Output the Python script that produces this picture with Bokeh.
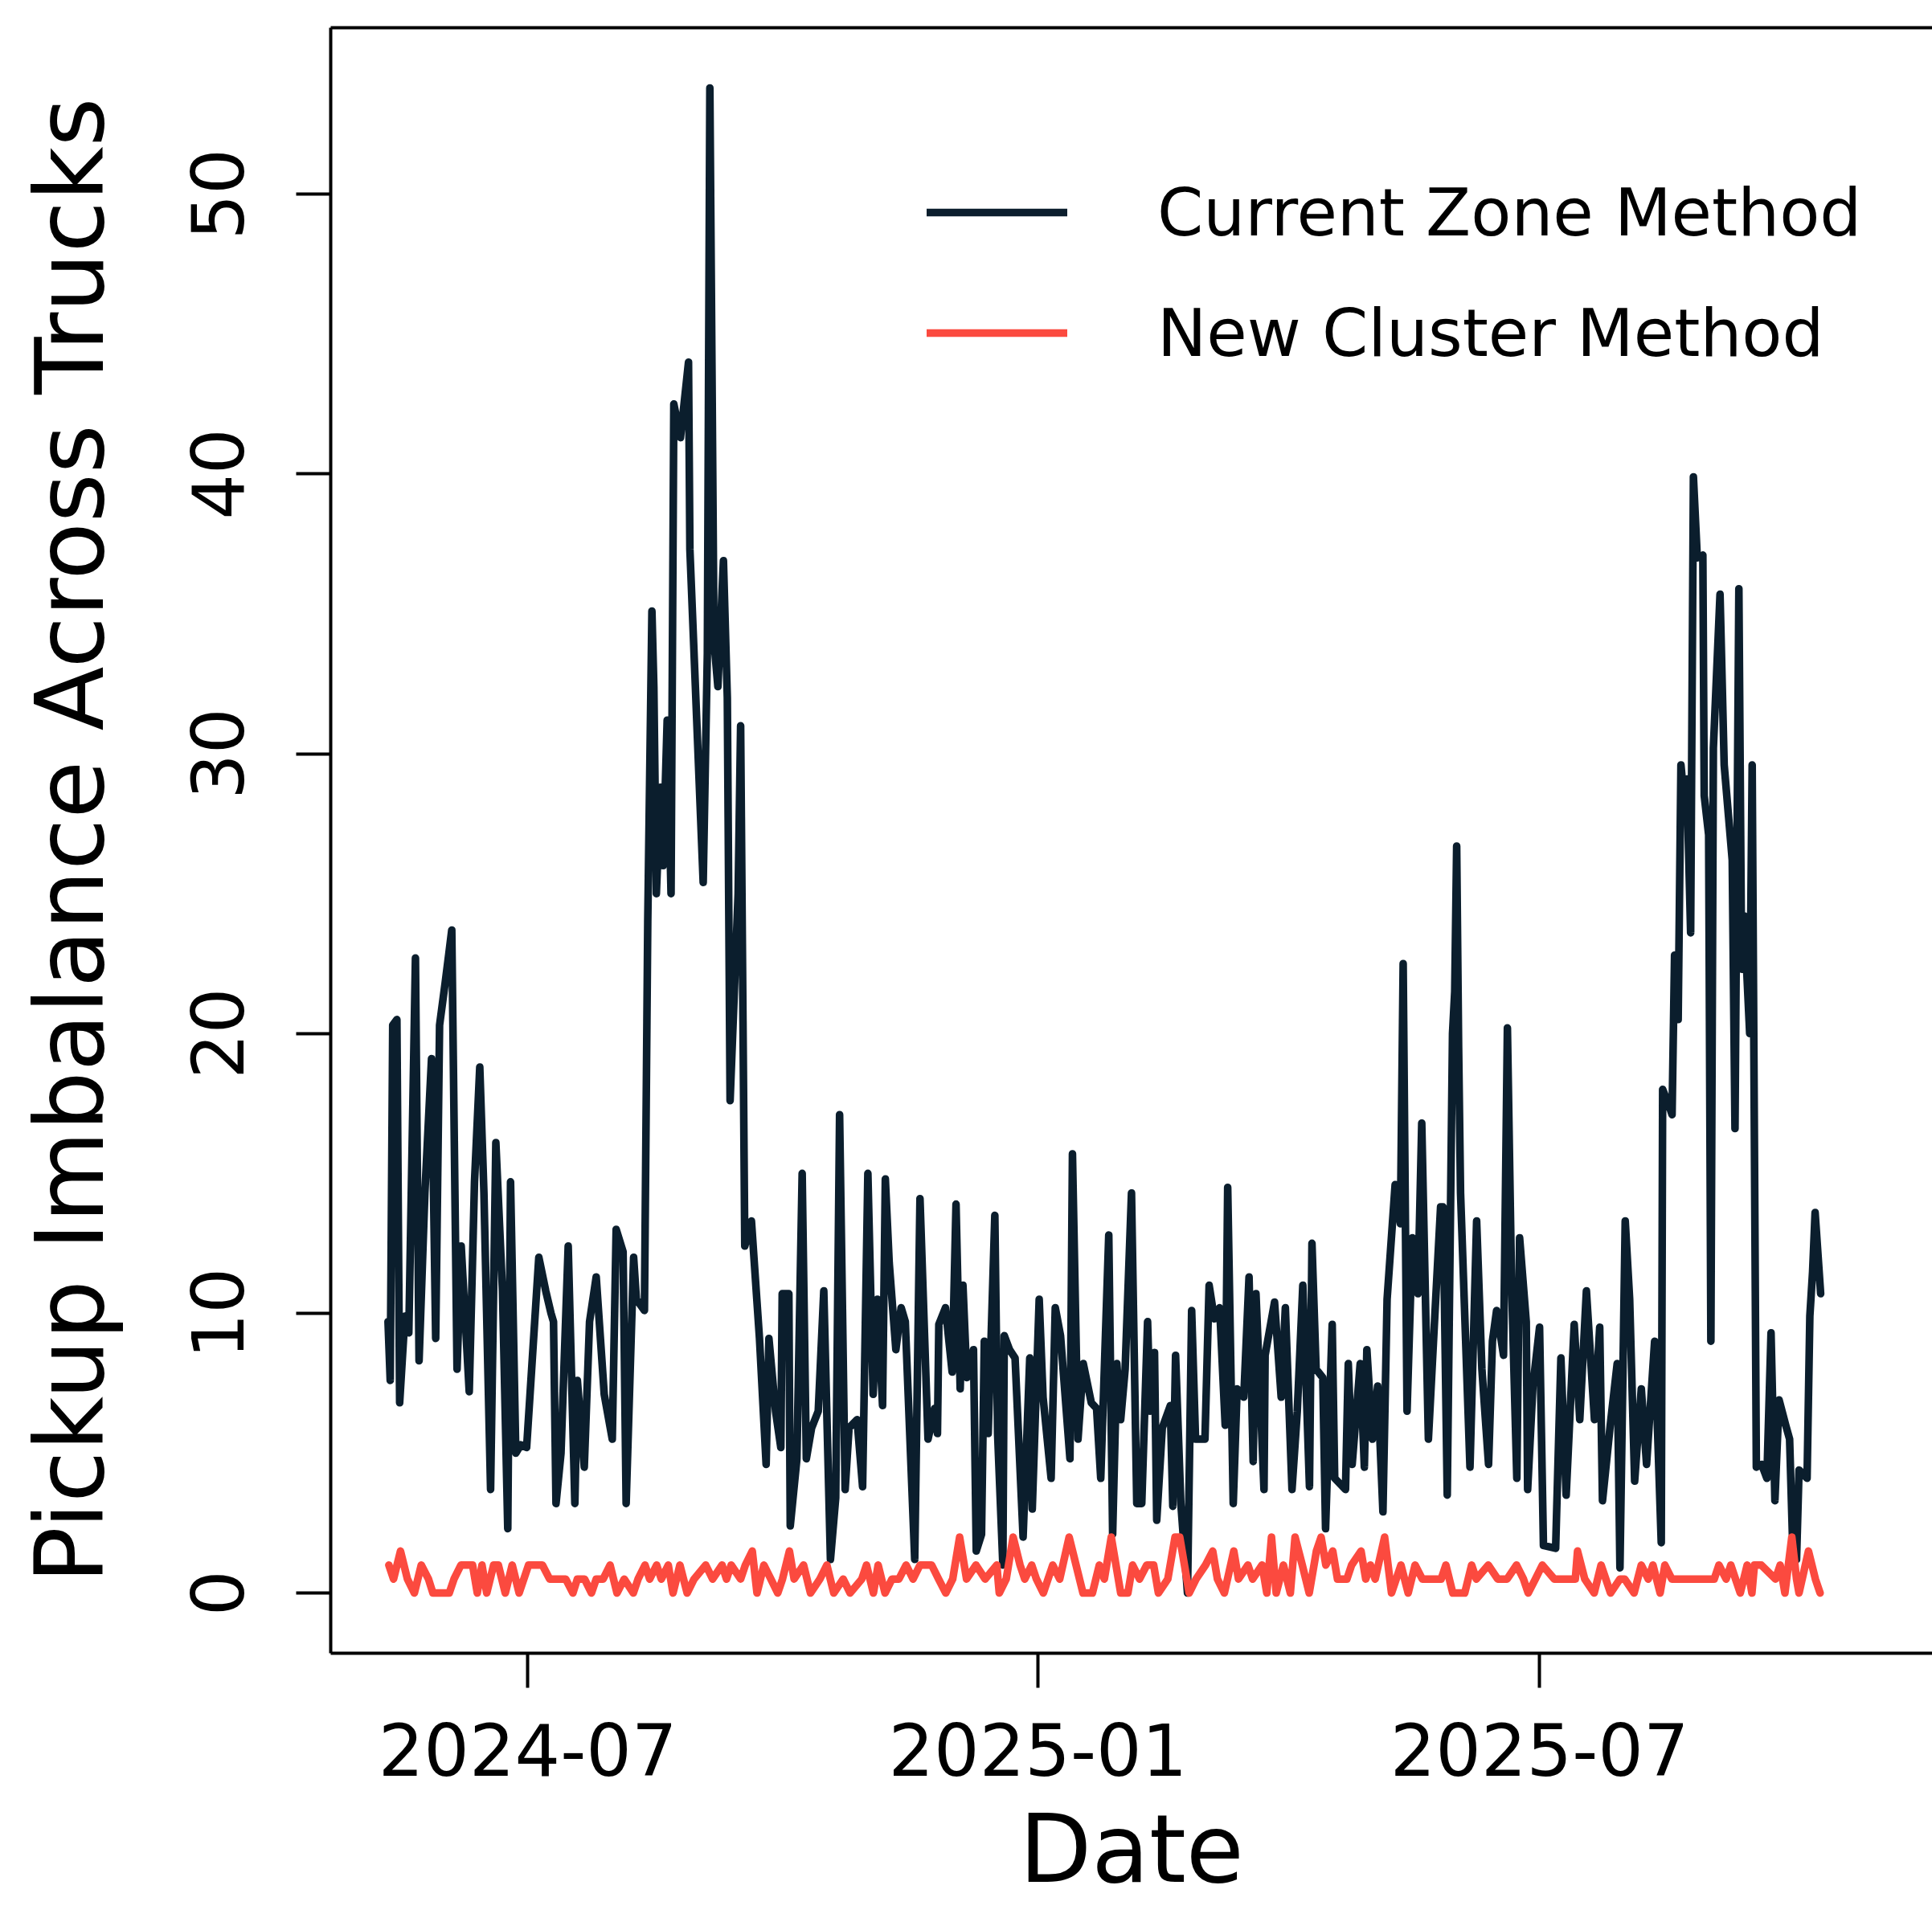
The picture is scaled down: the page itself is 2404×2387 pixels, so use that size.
import pandas as pd
from bokeh.plotting import figure
from bokeh.models import (Range1d, FixedTicker, DatetimeTickFormatter, LinearAxis,
                          Legend, LegendItem, ColumnDataSource)
from bokeh.embed import file_html
from bokeh.resources import INLINE

# ---------------- data ----------------
ORIGIN = "2024-07-01"   # day offsets below are counted from this date

black_days = [
    -50.4, -49.6, -48.7, -47.2, -46.2, -44.3, -42.9, -40.5, -39.2, -37.1,
    -34.7, -33.2, -31.8, -29.8, -28.4, -27.4, -25.5, -24.0, -21.1, -19.2,
    -17.3, -15.8, -13.4, -11.5, -9.1, -7.2, -6.2, -4.3, -2.5, -0.4,
    4.0, 6.5, 8.4, 9.3, 10.2, 12.0, 14.6, 17.0, 17.9, 20.4,
    22.3, 24.7, 27.6, 30.5, 31.9, 34.4, 35.5, 38.2, 39.2, 42.1,
    43.3, 44.8, 45.5, 46.4, 47.9, 48.8, 50.3, 51.7, 52.7, 55.1,
    58.0, 58.5, 63.3, 64.8, 65.7, 67.2, 68.6, 70.6, 72.0, 73.0,
    75.9, 76.8, 78.3, 80.7, 83.6, 86.0, 87.0, 89.4, 91.3, 91.8,
    94.2, 94.7, 97.1, 99.0, 100.5, 102.4, 104.8, 106.8, 109.2, 111.1,
    112.5, 114.5, 115.9, 118.8, 120.8, 122.7, 124.6, 126.1, 128.0, 129.0,
    130.4, 132.8, 134.7, 136.2, 139.6, 141.5, 144.4, 146.8, 147.8, 148.3,
    150.7, 153.1, 154.5, 156.0, 157.0, 158.4, 160.8, 161.8, 163.7, 164.7,
    166.1, 168.5, 169.5, 171.4, 171.9, 173.8, 175.8, 178.7, 181.1, 182.0,
    184.5, 185.9, 188.8, 190.3, 192.2, 195.6, 196.5, 198.5, 200.4, 203.3,
    205.2, 206.7, 209.6, 211.0, 212.5, 213.9, 215.5, 217.8, 219.7, 221.5,
    223.6, 224.5, 226.1, 226.9, 228.9, 231.8, 232.7, 233.7, 235.6, 238.0,
    239.5, 240.9, 244.3, 245.8, 247.7, 249.6, 251.6, 252.5, 254.5, 255.9,
    258.3, 260.2, 261.7, 262.7, 265.6, 266.0, 269.4, 271.8, 273.3, 275.7,
    277.6, 279.6, 282.0, 282.9, 284.4, 286.8, 287.8, 290.2, 291.1, 295.0,
    296.0, 297.4, 300.3, 301.8, 302.7, 304.7, 306.6, 308.5, 310.0, 312.9,
    314.8, 315.8, 317.2, 319.1, 321.1, 322.5, 324.9, 327.0, 329.3, 330.2,
    331.7, 333.6, 334.4, 335.1, 335.8, 336.5, 339.9, 342.3, 344.2, 346.6,
    348.0, 349.5, 352.0, 353.4, 354.9, 356.8, 357.8, 360.2, 360.7, 362.6,
    365.0, 366.4, 370.8, 372.7, 374.6, 377.5, 379.5, 381.9, 384.8, 386.7,
    387.7, 390.5, 393.0, 394.0, 395.9, 397.5, 399.3, 401.7, 403.6, 406.5,
    408.9, 409.4, 411.8, 412.8, 413.7, 415.0, 416.0, 417.0, 418.1, 419.5,
    420.5, 421.9, 423.9, 424.4, 426.0, 426.8, 427.7, 430.1, 431.6, 434.5,
    435.5, 436.9, 437.9, 438.8, 440.8, 441.7, 443.2, 445.1, 447.0, 448.5,
    449.9, 451.4, 453.8, 455.2, 456.2, 457.7, 458.6, 461.5, 462.5, 463.5,
    464.4, 466.4,
]
black_vals = [
    9.7, 7.6, 20.3, 20.5, 6.8, 9.9, 9.3, 22.7, 8.3, 14.3,
    19.1, 9.1, 20.3, 21.8, 22.9, 23.7, 8.0, 12.4, 7.2, 14.7,
    18.8, 14.3, 3.7, 16.1, 10.8, 2.3, 14.7, 5.0, 5.3, 5.2,
    12.0, 10.8, 10.0, 9.7, 3.2, 5.0, 12.4, 3.2, 7.6, 4.5,
    9.7, 11.3, 7.1, 5.5, 13.0, 12.2, 3.2, 12.0, 10.5, 10.1,
    24.0, 35.1, 32.4, 25.0, 28.8, 26.0, 31.2, 25.0, 42.5, 41.3,
    44.0, 37.3, 25.4, 33.6, 53.8, 34.0, 32.4, 36.9, 32.0, 17.6,
    25.0, 31.0, 12.4, 13.3, 9.1, 4.6, 9.1, 6.5, 5.2, 10.7,
    10.7, 2.4, 4.8, 15.0, 4.8, 5.9, 6.5, 10.8, 1.2, 3.4,
    17.1, 3.7, 5.9, 6.2, 3.8, 15.0, 7.1, 10.5, 6.7, 14.8,
    11.8, 8.7, 10.2, 9.7, 1.2, 14.1, 5.5, 6.6, 5.7, 9.6,
    10.2, 7.9, 13.9, 7.3, 11.0, 7.7, 8.7, 1.5, 2.1, 9.0,
    5.7, 13.5, 5.7, 1.0, 9.2, 8.7, 8.4, 2.0, 8.4, 3.0,
    10.5, 7.0, 4.1, 10.2, 9.2, 4.8, 15.7, 5.5, 8.2, 6.8,
    6.6, 4.1, 12.8, 2.1, 8.2, 6.2, 8.0, 14.3, 3.2, 3.2,
    9.7, 6.5, 8.6, 2.6, 5.9, 6.7, 3.1, 8.5, 3.2, 0.0,
    10.1, 5.5, 5.5, 11.0, 9.8, 10.2, 6.0, 14.5, 3.2, 7.3,
    7.0, 11.3, 4.7, 10.7, 3.7, 8.5, 10.4, 7.0, 10.2, 3.7,
    6.5, 11.0, 3.8, 12.5, 8.0, 7.7, 2.3, 9.6, 4.1, 3.7,
    8.2, 4.6, 8.2, 4.5, 8.7, 5.5, 7.4, 2.9, 10.5, 14.6,
    13.2, 22.5, 6.5, 12.7, 10.7, 16.8, 5.5, 9.5, 13.8, 13.8,
    3.5, 20.0, 21.5, 26.7, 19.5, 14.3, 4.5, 13.3, 8.0, 4.6,
    9.0, 10.1, 8.5, 20.2, 11.1, 4.1, 12.7, 9.7, 3.7, 7.4,
    9.5, 1.7, 1.6, 8.4, 3.5, 9.6, 6.2, 10.8, 6.2, 9.5,
    3.3, 6.0, 8.2, 0.9, 13.3, 10.5, 4.0, 7.3, 4.6, 9.0,
    1.8, 18.0, 17.4, 17.1, 22.8, 20.5, 29.6, 28.5, 29.1, 23.6,
    39.9, 37.0, 37.1, 28.5, 27.1, 9.0, 30.2, 35.7, 29.6, 26.2,
    16.6, 35.9, 22.3, 24.2, 20.0, 29.6, 4.5, 4.6, 4.1, 9.3,
    3.3, 6.9, 6.0, 5.5, 2.1, 1.2, 4.4, 4.1, 9.9, 11.5,
    13.6, 10.7,
]

red_days = [
    -50.1, -48.4, -45.9, -43.4, -40.9, -38.4, -35.8, -34.2, -28.3, -26.6,
    -24.1, -19.9, -18.2, -16.5, -14.8, -12.3, -10.6, -8.1, -5.6, -3.1,
    0.3, 5.3, 7.9, 13.7, 16.3, 17.9, 20.5, 23.0, 24.7, 27.2,
    29.7, 32.2, 34.8, 38.1, 39.8, 42.3, 44.0, 46.5, 48.2, 50.7,
    52.4, 54.9, 57.5, 60.0, 64.2, 66.7, 70.1, 71.7, 73.4, 76.8,
    78.5, 81.0, 82.7, 85.2, 87.7, 90.2, 91.9, 94.4, 96.1, 99.5,
    102.0, 105.4, 107.9, 110.4, 113.8, 116.3, 120.5, 122.2, 124.7, 126.4,
    128.9, 131.4, 133.9, 136.5, 139.0, 141.5, 145.7, 148.2, 150.8, 153.3,
    155.8, 158.3, 161.7, 165.0, 169.2, 170.1, 172.6, 175.1, 177.6, 179.3,
    181.8, 183.5, 186.0, 189.4, 191.9, 195.3, 197.8, 200.3, 203.7, 206.2,
    208.0, 210.5, 213.9, 216.5, 218.2, 220.7, 223.3, 225.8, 227.5, 230.9,
    233.5, 235.2, 236.9, 238.6, 241.1, 244.5, 247.1, 248.8, 251.3, 254.7,
    256.4, 259.8, 261.5, 264.9, 266.6, 268.3, 270.0, 272.6, 275.1, 276.8,
    279.4, 281.9, 284.5, 286.2, 287.9, 290.4, 292.1, 295.5, 297.2, 300.6,
    302.3, 304.0, 305.7, 309.1, 311.6, 315.0, 317.6, 320.1, 322.7, 329.5,
    331.2, 333.7, 338.0, 340.5, 342.2, 346.5, 349.9, 353.3, 356.7, 359.2,
    360.9, 363.5, 366.0, 370.3, 377.9, 378.7, 381.3, 384.7, 387.2, 390.6,
    394.0, 395.7, 399.1, 401.7, 404.2, 405.9, 408.5, 410.2, 412.7, 421.2,
    428.0, 429.7, 432.3, 434.0, 435.7, 437.4, 439.9, 441.6, 442.5, 445.0,
    450.1, 451.8, 453.5, 456.0, 457.7, 458.6, 462.0, 464.5, 466.2,
]
red_vals = [
    1.0, 0.5, 1.5, 0.5, 0.0, 1.0, 0.5, 0.0, 0.0, 0.5,
    1.0, 1.0, 0.0, 1.0, 0.0, 1.0, 1.0, 0.0, 1.0, 0.0,
    1.0, 1.0, 0.5, 0.5, 0.0, 0.5, 0.5, 0.0, 0.5, 0.5,
    1.0, 0.0, 0.5, 0.0, 0.5, 1.0, 0.5, 1.0, 0.5, 1.0,
    0.0, 1.0, 0.0, 0.5, 1.0, 0.5, 1.0, 0.5, 1.0, 0.5,
    1.0, 1.5, 0.0, 1.0, 0.5, 0.0, 0.5, 1.5, 0.5, 1.0,
    0.0, 0.5, 1.0, 0.0, 0.5, 0.0, 0.5, 1.0, 0.0, 1.0,
    0.0, 0.5, 0.5, 1.0, 0.5, 1.0, 1.0, 0.5, 0.0, 0.5,
    2.0, 0.5, 1.0, 0.5, 1.0, 0.0, 0.5, 2.0, 1.0, 0.5,
    1.0, 0.5, 0.0, 1.0, 0.5, 2.0, 1.0, 0.0, 0.0, 1.0,
    0.5, 2.0, 0.0, 0.0, 1.0, 0.5, 1.0, 1.0, 0.0, 0.5,
    2.0, 2.0, 1.0, 0.0, 0.5, 1.0, 1.5, 0.5, 0.0, 1.5,
    0.5, 1.0, 0.5, 1.0, 0.0, 2.0, 0.0, 1.0, 0.0, 2.0,
    1.0, 0.0, 1.5, 2.0, 1.0, 1.5, 0.5, 0.5, 1.0, 1.5,
    0.5, 1.0, 0.5, 2.0, 0.0, 1.0, 0.0, 1.0, 0.5, 0.5,
    1.0, 0.0, 0.0, 1.0, 0.5, 1.0, 0.5, 0.5, 1.0, 0.5,
    0.0, 0.5, 1.0, 0.5, 0.5, 1.5, 0.5, 0.0, 1.0, 0.0,
    0.5, 0.5, 0.0, 1.0, 0.5, 1.0, 0.0, 1.0, 0.5, 0.5,
    0.5, 1.0, 0.5, 1.0, 0.5, 0.0, 1.0, 0.0, 1.0, 1.0,
    0.5, 1.0, 0.0, 2.0, 0.5, 0.0, 1.5, 0.5, 0.0,
]

series_names = ["Current Zone Method", "New Cluster Method"]
series_colors = ["#0b1e2d", "#fb4a3f"]
x_tick_labels = ["2024-07", "2025-01", "2025-07"]
y_ticks = [0, 10, 20, 30, 40, 50]
x_title = "Date"
y_title = "Pickup Imbalance Across Trucks"

FONT = "DejaVu Sans"

# ---------------- build ----------------
origin = pd.Timestamp(ORIGIN)
bx = origin + pd.to_timedelta(black_days, unit="D")
rx = origin + pd.to_timedelta(red_days, unit="D")


def ms(ts):
    return pd.Timestamp(ts).value / 1e6


d_lo = min(black_days[0], red_days[0])
d_hi = max(black_days[-1], red_days[-1])
span = d_hi - d_lo
x_lo = ms(origin + pd.Timedelta(days=d_lo - 0.04 * span))
x_hi = ms(origin + pd.Timedelta(days=d_hi + 0.078 * span))
v_lo = min(min(black_vals), min(red_vals))
v_hi = max(max(black_vals), max(red_vals))
vpad = 0.04 * (v_hi - v_lo)
y_lo, y_hi = v_lo - vpad, v_hi + vpad

p = figure(width=2404, height=2387, x_axis_type="datetime",
           x_range=Range1d(x_lo, x_hi), y_range=Range1d(y_lo, y_hi),
           output_backend="svg", toolbar_location=None,
           min_border_left=411, min_border_top=34,
           min_border_bottom=330, min_border_right=0)
p.outline_line_color = None
p.xgrid.visible = False
p.ygrid.visible = False
p.background_fill_color = "white"
p.border_fill_color = "white"

src_b = ColumnDataSource(dict(x=bx, y=black_vals))
src_r = ColumnDataSource(dict(x=rx, y=red_vals))
LW = 9.5
r1 = p.line("x", "y", source=src_b, line_color=series_colors[0], line_width=LW,
            line_join="round", line_cap="round")
r2 = p.line("x", "y", source=src_r, line_color=series_colors[1], line_width=LW,
            line_join="round", line_cap="round")

xa = p.xaxis[0]
xa.ticker = FixedTicker(ticks=[ms(t + "-01") for t in x_tick_labels])
fmt = "%Y-%m"
xa.formatter = DatetimeTickFormatter(microseconds=fmt, milliseconds=fmt, seconds=fmt,
                                     minsec=fmt, minutes=fmt, hourmin=fmt, hours=fmt,
                                     days=fmt, months=fmt, years=fmt)
xa.axis_label = x_title
xa.axis_label_standoff = 20

ya = p.yaxis[0]
ya.ticker = FixedTicker(ticks=y_ticks)
ya.major_label_orientation = "vertical"
ya.axis_label = y_title
ya.axis_label_standoff = 79

for ax in (xa, ya):
    ax.axis_line_width = 4
    ax.axis_line_color = "black"
    ax.major_tick_line_width = 4
    ax.major_tick_line_color = "black"
    ax.major_tick_out = 43
    ax.major_tick_in = 0
    ax.minor_tick_line_color = None
    ax.major_label_text_font = FONT
    ax.major_label_text_font_size = "89px"
    ax.major_label_text_color = "black"
    ax.axis_label_text_font = FONT
    ax.axis_label_text_font_size = "117px"
    ax.axis_label_text_font_style = "normal"
    ax.axis_label_text_color = "black"
xa.major_label_standoff = 43
ya.major_label_standoff = 65

top = LinearAxis(ticker=FixedTicker(ticks=[]), axis_line_width=4, axis_line_color="black",
                 major_tick_out=0, major_tick_in=0, minor_tick_line_color=None,
                 major_label_text_font_size="0px", major_label_standoff=0)
p.add_layout(top, "above")

legend = Legend(items=[LegendItem(label=series_names[0], renderers=[r1]),
                       LegendItem(label=series_names[1], renderers=[r2])],
                location=(742, 1588), glyph_width=175, glyph_height=110,
                label_height=110, label_standoff=112, spacing=40, padding=0, margin=0,
                border_line_color=None, background_fill_alpha=0,
                label_text_font=FONT, label_text_font_size="82px",
                label_text_color="black")
p.add_layout(legend)

open("out.html", "w").write(file_html(p, INLINE))
